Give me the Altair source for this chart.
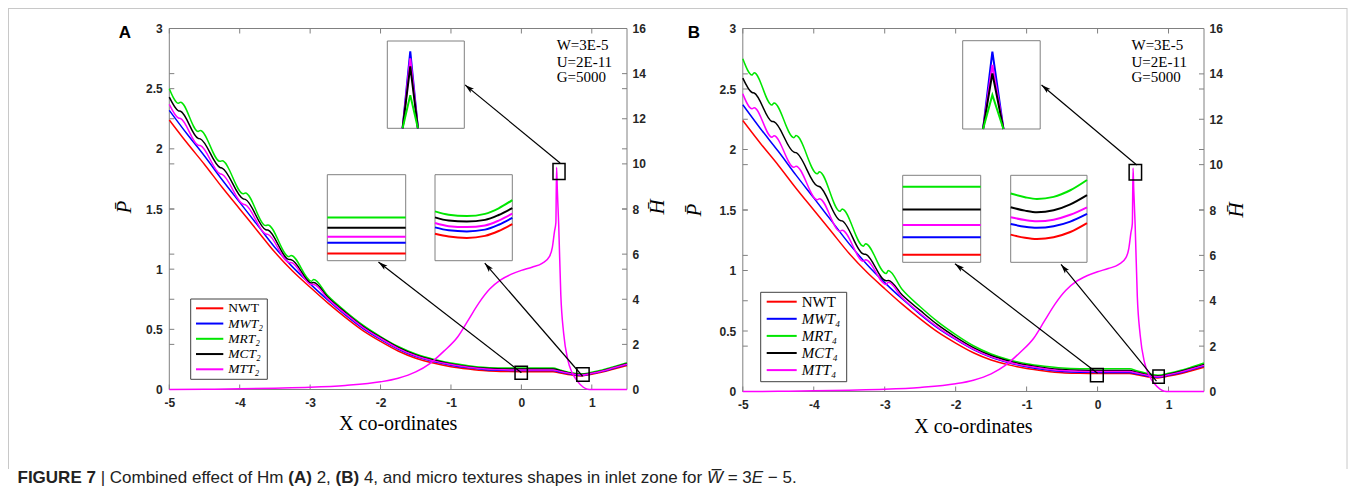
import math
import altair as alt
import pandas as pd

# ---------------- data ----------------
SERIES = ["NWT", "MWT", "MRT", "MCT", "MTT"]

X_SMOOTH = [-5, -4.75, -4.5, -4.25, -4, -3.75, -3.5, -3.25, -3, -2.75, -2.5, -2.25, -2, -1.75,
            -1.5, -1.25, -1, -0.75, -0.5, -0.25, 0, 0.25, 0.45, 0.55, 0.7, 0.85, 1.0, 1.15, 1.3, 1.5]
X_BUMPY = [-5, -4.87, -4.84, -4.59, -4.56, -4.28, -4.25, -3.95, -3.92, -3.63, -3.60, -3.30, -3.27,
           -2.98, -2.95, -2.75, -2.5, -2.25, -2, -1.75, -1.5, -1.25, -1, -0.75, -0.5, -0.25, 0,
           0.25, 0.45, 0.55, 0.7, 0.85, 1.0, 1.15, 1.3, 1.5]

P_NWT = [2.24, 2.05, 1.87, 1.68, 1.50, 1.32, 1.14, 0.985, 0.85, 0.72, 0.60, 0.49, 0.40, 0.32, 0.26,
         0.22, 0.19, 0.17, 0.155, 0.15, 0.148, 0.148, 0.148, 0.138, 0.122, 0.112, 0.127, 0.145,
         0.168, 0.20]

# panel A (Hm = 2)
P_MWT_2 = [2.32, 2.125, 1.94, 1.743, 1.555, 1.368, 1.18, 1.019, 0.878, 0.744, 0.62, 0.508, 0.416,
           0.335, 0.273, 0.232, 0.202, 0.18, 0.165, 0.159, 0.157, 0.157, 0.157, 0.145, 0.128,
           0.117, 0.132, 0.151, 0.175, 0.207]
P_MRT_2 = [2.50, 2.379, 2.388, 2.145, 2.153, 1.896, 1.90, 1.627, 1.634, 1.362, 1.368, 1.104, 1.114,
           0.900, 0.914, 0.78, 0.65, 0.535, 0.44, 0.357, 0.295, 0.252, 0.22, 0.198, 0.183, 0.179,
           0.178, 0.178, 0.178, 0.162, 0.14, 0.128, 0.143, 0.162, 0.187, 0.222]
P_MCT_2 = [2.43, 2.316, 2.312, 2.087, 2.083, 1.845, 1.84, 1.584, 1.58, 1.328, 1.325, 1.08, 1.079,
           0.886, 0.889, 0.767, 0.64, 0.525, 0.432, 0.35, 0.288, 0.245, 0.213, 0.19, 0.176, 0.171,
           0.1695, 0.1695, 0.1695, 0.157, 0.136, 0.124, 0.138, 0.157, 0.181, 0.215]
P_MTT_2 = [2.37, 2.256, 2.252, 2.03, 2.027, 1.793, 1.788, 1.539, 1.535, 1.292, 1.289, 1.056, 1.055,
           0.872, 0.873, 0.755, 0.63, 0.517, 0.425, 0.342, 0.28, 0.238, 0.208, 0.185, 0.17, 0.1635,
           0.162, 0.162, 0.162, 0.15, 0.132, 0.12, 0.135, 0.154, 0.178, 0.211]

# panel B (Hm = 4)
P_MWT_4 = [2.37, 2.172, 1.985, 1.788, 1.60, 1.41, 1.22, 1.05, 0.90, 0.764, 0.638, 0.524, 0.43,
           0.346, 0.282, 0.238, 0.205, 0.182, 0.166, 0.159, 0.158, 0.158, 0.158, 0.146, 0.129,
           0.118, 0.134, 0.153, 0.177, 0.21]
P_MRT_4 = [2.75, 2.616, 2.635, 2.367, 2.385, 2.098, 2.115, 1.799, 1.817, 1.489, 1.508, 1.201, 1.222,
           0.975, 0.999, 0.84, 0.70, 0.575, 0.47, 0.378, 0.31, 0.263, 0.23, 0.209, 0.194, 0.188,
           0.187, 0.187, 0.187, 0.172, 0.148, 0.135, 0.15, 0.171, 0.197, 0.235]
P_MCT_4 = [2.59, 2.471, 2.467, 2.232, 2.229, 1.978, 1.974, 1.699, 1.694, 1.414, 1.41, 1.136, 1.134,
           0.915, 0.918, 0.795, 0.67, 0.55, 0.45, 0.363, 0.297, 0.252, 0.219, 0.197, 0.181, 0.175,
           0.174, 0.174, 0.174, 0.16, 0.139, 0.1275, 0.143, 0.163, 0.188, 0.224]
P_MTT_4 = [2.46, 2.336, 2.346, 2.102, 2.113, 1.853, 1.862, 1.584, 1.594, 1.324, 1.333, 1.076, 1.089,
           0.885, 0.902, 0.772, 0.645, 0.53, 0.435, 0.35, 0.286, 0.242, 0.21, 0.189, 0.173, 0.167,
           0.165, 0.165, 0.165, 0.153, 0.134, 0.122, 0.138, 0.158, 0.182, 0.216]

# right-axis curve (H bar)
X_H = [-5, -4.5, -4, -3.5, -3, -2.5, -2, -1.75, -1.5, -1.3, -1.1, -0.9, -0.75, -0.6, -0.45, -0.3,
       -0.15, 0, 0.15, 0.3, 0.4, 0.44, 0.47, 0.49, 0.5, 0.51, 0.53, 0.56, 0.6, 0.66, 0.72, 0.8,
       0.88, 0.94, 1.0, 1.5]
H_BAR = [0.0, 0.01, 0.03, 0.06, 0.1, 0.18, 0.34, 0.5, 0.78, 1.15, 1.7, 2.35, 3.1, 3.85, 4.45, 4.85,
         5.1, 5.28, 5.42, 5.6, 5.9, 6.3, 7.0, 7.4, 9.85, 8.9, 7.3, 4.2, 2.5, 1.3, 0.75, 0.35, 0.1,
         0.01, 0.0, 0.0]

# zoomed insets
IN1_X_2 = [-0.07, 0.10]
IN1_2 = {"NWT": [0.148, 0.148], "MWT": [0.157, 0.157], "MTT": [0.162, 0.162],
         "MCT": [0.1695, 0.1695], "MRT": [0.178, 0.178]}
IN1_X_4 = [-0.10, 0.08]
IN1_4 = {"NWT": [0.148, 0.148], "MWT": [0.158, 0.158], "MTT": [0.165, 0.165],
         "MCT": [0.174, 0.174], "MRT": [0.187, 0.187]}
IN2_X_2 = [0.79, 0.82, 0.86, 0.90, 0.93, 0.96]
IN2_2 = {"NWT": [0.1155, 0.1135, 0.1125, 0.1140, 0.1175, 0.1225],
         "MWT": [0.1201, 0.1180, 0.1172, 0.1185, 0.1220, 0.1270],
         "MTT": [0.1232, 0.1210, 0.1203, 0.1215, 0.1250, 0.1300],
         "MCT": [0.1273, 0.1250, 0.1243, 0.1255, 0.1290, 0.1340],
         "MRT": [0.1316, 0.1292, 0.1282, 0.1298, 0.1338, 0.1397]}
IN2_X_4 = [0.78, 0.81, 0.835, 0.87, 0.905, 0.94]
IN2_4 = {"NWT": [0.1145, 0.1127, 0.1120, 0.1130, 0.1160, 0.1211],
         "MWT": [0.1206, 0.1190, 0.1184, 0.1193, 0.1220, 0.1264],
         "MTT": [0.1245, 0.1229, 0.1222, 0.1231, 0.1259, 0.1302],
         "MCT": [0.1302, 0.1283, 0.1274, 0.1285, 0.1319, 0.1372],
         "MRT": [0.1381, 0.1360, 0.1350, 0.1362, 0.1400, 0.1459]}
IN3_X_2 = [0.483, 0.50, 0.517]
IN3_2 = {"MWT": [9.31, 9.935, 9.31], "MTT": [9.31, 9.878, 9.31],
         "MCT": [9.31, 9.814, 9.31], "MRT": [9.31, 9.58, 9.31]}
IN3_X_4 = [0.491, 0.512, 0.537]
IN3_4 = {"MWT": [9.32, 9.924, 9.32], "MTT": [9.32, 9.82, 9.32],
         "MCT": [9.32, 9.755, 9.32], "MRT": [9.32, 9.586, 9.32]}

# zoom windows (data coordinates) and arrows
SQ_P_2 = {"xa": [-0.09, 0.787], "xb": [0.085, 0.962], "ya": [0.086, 0.069], "yb": [0.194, 0.18]}
SQ_H_2 = {"xa": [0.449], "xb": [0.62], "ya": [9.31], "yb": [10.02]}
SQ_P_4 = {"xa": [-0.10, 0.78], "xb": [0.08, 0.94], "ya": [0.08, 0.068], "yb": [0.19, 0.178]}
SQ_H_4 = {"xa": [0.445], "xb": [0.62], "ya": [9.32], "yb": [10.01]}
ARR_P_2 = {"x0": [0.0, 0.87], "y0": [0.14, 0.11], "x1": [-2.03, -0.52], "y1": [1.06, 1.05]}
ARR_H_2 = {"x0": [0.55], "y0": [10.04], "x1": [-0.80], "y1": [13.5]}
ARR_P_4 = {"x0": [0.0, 0.83], "y0": [0.15, 0.085], "x1": [-2.01, -0.515], "y1": [1.055, 1.05]}
ARR_H_4 = {"x0": [0.552], "y0": [9.98], "x1": [-0.79], "y1": [13.51]}

X_TICKS = [-5, -4, -3, -2, -1, 0, 1]
P_TICKS = [0, 0.5, 1, 1.5, 2, 2.5, 3]
H_TICKS = [0, 2, 4, 6, 8, 10, 12, 14, 16]
NOTES = ["W=3E-5", "U=2E-11", "G=5000"]

# ---------------- style / layout ----------------
W_TOTAL, H_TOTAL = 1343, 484
SANS = "Liberation Sans"
SERIF = "Liberation Serif"
AXC = "#808080"
LBL = "#262626"
COL = {"NWT": "#ff0000", "MWT": "#0000ff", "MRT": "#00e600", "MCT": "#000000", "MTT": "#ff00ff"}
TL = 5
ARROW_PATH = "M0,0L-0.5,1.8L0,1.4L0.5,1.8Z"


def lin(domain, rng):
    return alt.Scale(domain=list(domain), range=list(rng), nice=False, zero=False)


def one_row(text=""):
    return pd.DataFrame({"t": [text]})


def rect_px(x0, x1, y0, y1, **mk):
    return alt.Chart(one_row()).mark_rect(**mk).encode(
        x=alt.value(x0), x2=alt.value(x1), y=alt.value(y0), y2=alt.value(y1))


def rule_px(x0, x1, y0, y1, **mk):
    return alt.Chart(one_row()).mark_rule(**mk).encode(
        x=alt.value(x0), x2=alt.value(x1), y=alt.value(y0), y2=alt.value(y1))


def text_px(text, x, y, **mk):
    return alt.Chart(one_row(text)).mark_text(**mk).encode(
        x=alt.value(x), y=alt.value(y), text="t:N")


def line(xs, ys, xsc, ysc, color, width=1.5, xaxis=None, yaxis=None, interp="monotone"):
    df = pd.DataFrame({"x": xs, "y": ys})
    return alt.Chart(df).mark_line(color=color, strokeWidth=width, interpolate=interp).encode(
        x=alt.X("x:Q", scale=xsc, axis=xaxis),
        y=alt.Y("y:Q", scale=ysc, axis=yaxis),
    )


def panel(p):
    L = []
    xsc = lin([-5, 1.5], [p["x0"], p["x1"]])
    psc = lin([0, 3], [p["y1"], p["y0"]])
    hsc = lin([0, 16], [p["y1"], p["y0"]])

    common = dict(ticks=False, domain=False, grid=False, title=None, labelFont=SANS,
                  labelFontWeight="bold", labelFontSize=12, labelColor=LBL, labelFlush=False,
                  labelExpr="'' + datum.value")
    x_axis = alt.Axis(orient="bottom", offset=-(H_TOTAL - p["y1"]), values=X_TICKS,
                      labelPadding=8, **common)
    p_axis = alt.Axis(orient="left", offset=-p["x0"], values=P_TICKS, labelPadding=7, **common)
    h_axis = alt.Axis(orient="right", offset=p["x1"] - W_TOTAL, values=H_TICKS,
                      labelPadding=5, **common)

    # plot frame
    L.append(rect_px(p["x0"], p["x1"], p["y0"], p["y1"], fillOpacity=0, stroke=AXC,
                     strokeWidth=1))
    # inward ticks
    dx = pd.DataFrame({"v": X_TICKS})
    for ya, yb in [(p["y1"], p["y1"] - TL), (p["y0"], p["y0"] + TL)]:
        L.append(alt.Chart(dx).mark_rule(color=AXC).encode(
            x=alt.X("v:Q", scale=xsc, axis=None), y=alt.value(ya), y2=alt.value(yb)))
    for vals, sc in [(P_TICKS, psc), (H_TICKS, hsc)]:
        d = pd.DataFrame({"v": vals})
        for xa, xb in [(p["x0"], p["x0"] + TL), (p["x1"] - TL, p["x1"])]:
            L.append(alt.Chart(d).mark_rule(color=AXC).encode(
                y=alt.Y("v:Q", scale=sc, axis=None), x=alt.value(xa), x2=alt.value(xb)))

    # pressure curves
    cur = p["curves"]
    L.append(line(X_SMOOTH, P_NWT, xsc, psc, COL["NWT"], xaxis=x_axis, yaxis=p_axis))
    L.append(line(X_SMOOTH, cur["MWT"], xsc, psc, COL["MWT"]))
    L.append(line(X_BUMPY, cur["MRT"], xsc, psc, COL["MRT"]))
    L.append(line(X_BUMPY, cur["MCT"], xsc, psc, COL["MCT"]))
    L.append(line(X_BUMPY, cur["MTT"], xsc, psc, COL["MTT"]))
    # right-axis curve
    L.append(line(X_H, H_BAR, xsc, hsc, COL["MTT"], yaxis=h_axis))

    # zoom squares
    for sq, sc in [(p["sqP"], psc), (p["sqH"], hsc)]:
        L.append(alt.Chart(pd.DataFrame(sq)).mark_rect(fillOpacity=0, stroke="#000000",
                                                       strokeWidth=1.5).encode(
            x=alt.X("xa:Q", scale=xsc, axis=None), x2="xb:Q",
            y=alt.Y("ya:Q", scale=sc, axis=None), y2="yb:Q"))

    # arrows
    def px_x(v):
        return p["x0"] + (v + 5) / 6.5 * (p["x1"] - p["x0"])

    def px_y(v, top):
        return p["y1"] - v / top * (p["y1"] - p["y0"])

    for arr, sc, top in [(p["arrP"], psc, 3.0), (p["arrH"], hsc, 16.0)]:
        df = pd.DataFrame(arr)
        angs = []
        for i in range(len(df)):
            ddx = px_x(df.x1[i]) - px_x(df.x0[i])
            ddy = px_y(df.y1[i], top) - px_y(df.y0[i], top)
            angs.append((math.degrees(math.atan2(ddx, -ddy)) + 360) % 360)
        df["ang"] = angs
        L.append(alt.Chart(df).mark_rule(color="#000000", strokeWidth=1.2).encode(
            x=alt.X("x0:Q", scale=xsc, axis=None), x2="x1:Q",
            y=alt.Y("y0:Q", scale=sc, axis=None), y2="y1:Q"))
        L.append(alt.Chart(df).mark_point(shape=ARROW_PATH, filled=True, color="#000000",
                                          opacity=1, size=110).encode(
            x=alt.X("x1:Q", scale=xsc, axis=None),
            y=alt.Y("y1:Q", scale=sc, axis=None),
            angle=alt.Angle("ang:Q", scale=None)))

    # insets
    for box, xdom, ydom, xs, data, order, interp in p["insets"]:
        x0, x1, y0, y1 = box
        L.append(rect_px(x0, x1, y0, y1, fill="#ffffff", stroke=AXC, strokeWidth=1))
        ixs = lin(xdom, [x0, x1])
        iys = lin(ydom, [y1, y0])
        for s in order:
            if s in data:
                L.append(line(xs, data[s], ixs, iys, COL[s], width=2, interp=interp))

    # legend
    lg = p["legend"]
    bx0, bx1, by0, by1 = lg["box"]
    L.append(rect_px(bx0, bx1, by0, by1, fill="#ffffff", stroke="#404040", strokeWidth=1))
    labels = lg["labels"]
    ysc = alt.Scale(type="point", domain=labels, range=list(lg["rows"]), padding=0)
    d = pd.DataFrame({"s": labels, "k": SERIES})
    L.append(alt.Chart(d).mark_rule(strokeWidth=2).encode(
        y=alt.Y("s:N", scale=ysc, axis=None),
        x=alt.value(lg["line"][0]), x2=alt.value(lg["line"][1]),
        color=alt.Color("k:N", scale=alt.Scale(domain=SERIES, range=[COL[s] for s in SERIES]),
                        legend=None)))
    L.append(alt.Chart(d.iloc[:1]).mark_text(align="left", baseline="middle", font=SERIF,
                                             fontSize=lg["fs"], color="#000000").encode(
        y=alt.Y("s:N", scale=ysc, axis=None), x=alt.value(lg["tx"]), text="s:N"))
    L.append(alt.Chart(d.iloc[1:]).mark_text(align="left", baseline="middle", font=SERIF,
                                             fontSize=lg["fs"], fontStyle="italic",
                                             color="#000000").encode(
        y=alt.Y("s:N", scale=ysc, axis=None), x=alt.value(lg["tx"]), text="s:N"))

    # texts
    for i, t in enumerate(NOTES):
        L.append(text_px(t, p["note_x"], p["note_y"][i], align="left", baseline="middle",
                         font=SERIF, fontSize=15, color="#000000"))
    L.append(text_px(p["tag"], p["tag_xy"][0], p["tag_xy"][1], align="center",
                     baseline="middle", font=SANS, fontWeight="bold", fontSize=17,
                     color="#000000"))
    L.append(text_px("P\u0304", p["ptitle"][0], p["ptitle"][1], align="center",
                     baseline="middle", font=SERIF, fontStyle="italic", fontSize=21, angle=270,
                     color="#000000"))
    L.append(text_px("H\u0304", p["htitle"][0], p["htitle"][1], align="center",
                     baseline="middle", font=SERIF, fontStyle="italic", fontSize=21, angle=270,
                     color="#000000"))
    L.append(text_px("X co-ordinates", p["xtitle"][0], p["xtitle"][1], align="center",
                     baseline="middle", font=SERIF, fontSize=20, color="#000000"))
    return L


ORDER_MAIN = ["NWT", "MWT", "MTT", "MCT", "MRT"]
ORDER_PEAK = ["MWT", "MTT", "MCT", "MRT"]

PANEL_A = dict(
    x0=161.3, x1=619.0, y0=20.5, y1=381.5, tag="A", tag_xy=(117, 25),
    curves={"MWT": P_MWT_2, "MRT": P_MRT_2, "MCT": P_MCT_2, "MTT": P_MTT_2},
    sqP=SQ_P_2, sqH=SQ_H_2, arrP=ARR_P_2, arrH=ARR_H_2,
    insets=[
        ((319.3, 397.7, 166.7, 252.7), [-0.07, 0.10], [0.142, 0.2136], IN1_X_2, IN1_2,
         ORDER_MAIN, "linear"),
        ((427.0, 504.3, 166.7, 252.7), [0.79, 0.96], [0.0962, 0.1579], IN2_X_2, IN2_2,
         ORDER_MAIN, "monotone"),
        ((379.3, 456.3, 33.0, 120.3), [0.449, 0.62], [9.31, 10.02], IN3_X_2, IN3_2,
         ORDER_PEAK, "linear"),
    ],
    legend=dict(box=(182.7, 259.3, 291.0, 371.3), rows=(300.3, 361.3), line=(188.0, 215.3),
                tx=220.3, fs=13.5,
                labels=["NWT", "MWT\u2082", "MRT\u2082", "MCT\u2082", "MTT\u2082"]),
    note_x=548.7, note_y=(37, 53.5, 69),
    ptitle=(117, 199), htitle=(650, 199), xtitle=(390.2, 416),
)

PANEL_B = dict(
    x0=734.8, x1=1196.0, y0=20.5, y1=383.5, tag="B", tag_xy=(686, 25),
    curves={"MWT": P_MWT_4, "MRT": P_MRT_4, "MCT": P_MCT_4, "MTT": P_MTT_4},
    sqP=SQ_P_4, sqH=SQ_H_4, arrP=ARR_P_4, arrH=ARR_H_4,
    insets=[
        ((894.7, 972.7, 167.3, 254.3), [-0.10, 0.08], [0.1436, 0.1936], IN1_X_4, IN1_4,
         ORDER_MAIN, "linear"),
        ((1002.7, 1079.0, 167.3, 254.3), [0.78, 0.94], [0.0986, 0.1486], IN2_X_4, IN2_4,
         ORDER_MAIN, "monotone"),
        ((954.7, 1032.2, 32.7, 121.0), [0.445, 0.62], [9.32, 10.01], IN3_X_4, IN3_4,
         ORDER_PEAK, "linear"),
    ],
    legend=dict(box=(752.7, 838.7, 284.3, 373.7), rows=(293.7, 362.1), line=(758.7, 788.7),
                tx=793.7, fs=15,
                labels=["NWT", "MWT\u2084", "MRT\u2084", "MCT\u2084", "MTT\u2084"]),
    note_x=1123.5, note_y=(37, 53.5, 69),
    ptitle=(687, 202), htitle=(1229, 202), xtitle=(965.4, 419),
)

# ---------------- caption ----------------
REG_W = {" ": 278, "(": 333, ")": 333, ",": 278, "-": 333, ".": 278, "|": 260, "=": 584,
         "\u2212": 584, "A": 667, "B": 667, "C": 722, "E": 667, "H": 722, "W": 944,
         "a": 556, "b": 556, "c": 500, "d": 556, "e": 556, "f": 278, "h": 556, "i": 222,
         "l": 222, "m": 833, "n": 556, "o": 556, "p": 556, "r": 333, "s": 500, "t": 278,
         "u": 556, "x": 500, "z": 500, "\u0305": 0}
BOLD_W = {" ": 278, "(": 333, ")": 333, "7": 556, "A": 722, "B": 722, "E": 667, "F": 611,
          "G": 778, "I": 278, "R": 722, "U": 722}

CAP_FONT = SANS
CAP_FS = 17
CAP_Y = 470
CAP_X0 = 9.5
CAP_SEGS = [("FIGURE 7", "bold"), (" | ", "normal"), ("Combined effect of Hm ", "normal"),
            ("(A)", "bold"), (" 2, ", "normal"), ("(B)", "bold"),
            (" 4, and micro textures shapes in inlet zone for ", "normal"),
            ("W\u0305", "italic"), (" = 3", "normal"), ("E", "italic"), (" \u2212 5.", "normal")]


def text_width(s, style, fs):
    table = BOLD_W if style == "bold" else REG_W
    return sum(table.get(c, 556) for c in s) / 1000.0 * fs


def caption_layers():
    L = []
    x = CAP_X0
    for seg, style in CAP_SEGS:
        lead = len(seg) - len(seg.lstrip(" "))
        txt = seg.strip(" ")
        mk = dict(align="left", baseline="middle", font=CAP_FONT, fontSize=CAP_FS,
                  color="#222222")
        if style == "bold":
            mk["fontWeight"] = "bold"
        if style == "italic":
            mk["fontStyle"] = "italic"
        L.append(text_px(txt, x + text_width(" " * lead, style, CAP_FS), CAP_Y, **mk))
        x += text_width(seg, style, CAP_FS)
    return L


FRAME = "#c8c8c8"
layers = [
    rule_px(0, 1339, 0.5, 0.5, color=FRAME, strokeWidth=1),
    rule_px(0.5, 0.5, 0, 461, color=FRAME, strokeWidth=1),
    rule_px(1339, 1339, 0, 461, color=FRAME, strokeWidth=1),
]
layers += panel(PANEL_A)
layers += panel(PANEL_B)
layers += caption_layers()

chart = (
    alt.layer(*layers)
    .resolve_scale(x="independent", y="independent", color="independent")
    .properties(width=W_TOTAL, height=H_TOTAL, autosize=alt.AutoSizeParams(type="none"),
                padding=0)
    .configure_view(strokeWidth=0)
)

chart.save("out.html", embed_options={"renderer": "svg", "actions": False})
